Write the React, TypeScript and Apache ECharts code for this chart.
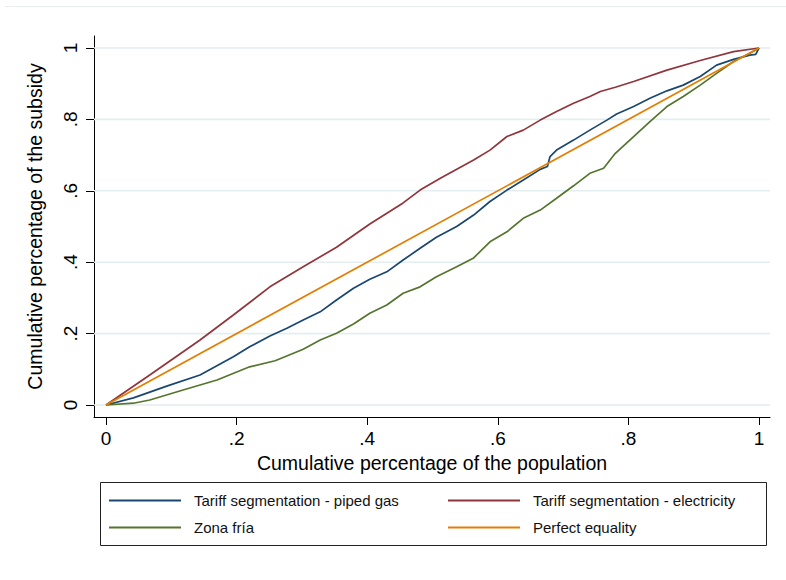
import React, { useEffect, useRef } from "react";
import * as echarts from "echarts";

// Axis ticks (both axes share the 0..1 scale)
const tickValues = [0, 0.2, 0.4, 0.6, 0.8, 1];
const tickLabels = ["0", ".2", ".4", ".6", ".8", "1"];

// Concentration curves: cumulative population share (x) vs cumulative subsidy share (y)
const gasX = [0, 0.042, 0.093, 0.144, 0.195, 0.22, 0.251, 0.277, 0.302, 0.328, 0.353, 0.379, 0.404, 0.43, 0.455, 0.481, 0.506, 0.537, 0.563, 0.588, 0.614, 0.639, 0.665, 0.676, 0.68, 0.69, 0.716, 0.741, 0.767, 0.782, 0.808, 0.833, 0.859, 0.884, 0.91, 0.935, 0.961, 0.986, 0.995, 1];
const gasY = [0, 0.02, 0.053, 0.084, 0.135, 0.163, 0.193, 0.215, 0.238, 0.261, 0.294, 0.327, 0.352, 0.373, 0.406, 0.439, 0.47, 0.5, 0.532, 0.57, 0.602, 0.63, 0.66, 0.668, 0.696, 0.714, 0.742, 0.77, 0.798, 0.815, 0.836, 0.859, 0.88, 0.896, 0.92, 0.952, 0.968, 0.98, 0.982, 1];

const elecX = [0, 0.067, 0.144, 0.195, 0.251, 0.302, 0.353, 0.404, 0.455, 0.481, 0.512, 0.563, 0.588, 0.614, 0.639, 0.665, 0.69, 0.716, 0.741, 0.757, 0.78, 0.808, 0.859, 0.91, 0.961, 1];
const elecY = [0, 0.084, 0.182, 0.252, 0.331, 0.387, 0.442, 0.507, 0.566, 0.602, 0.635, 0.686, 0.714, 0.752, 0.77, 0.798, 0.822, 0.845, 0.864, 0.878, 0.89, 0.906, 0.938, 0.965, 0.99, 1];

const friaX = [0, 0.042, 0.067, 0.118, 0.17, 0.22, 0.259, 0.302, 0.328, 0.353, 0.379, 0.404, 0.43, 0.455, 0.481, 0.506, 0.537, 0.563, 0.588, 0.614, 0.639, 0.665, 0.69, 0.716, 0.741, 0.762, 0.78, 0.808, 0.833, 0.859, 0.884, 0.91, 0.935, 0.961, 0.986, 1];
const friaY = [0, 0.005, 0.014, 0.042, 0.07, 0.107, 0.124, 0.156, 0.182, 0.201, 0.227, 0.257, 0.28, 0.313, 0.331, 0.359, 0.387, 0.412, 0.457, 0.485, 0.523, 0.546, 0.579, 0.614, 0.649, 0.663, 0.705, 0.752, 0.794, 0.836, 0.864, 0.896, 0.929, 0.962, 0.985, 1];

const equalityX = [0, 1];
const equalityY = [0, 1];

const seriesNames = [
  "Tariff segmentation - piped gas",
  "Tariff segmentation - electricity",
  "Zona fría",
  "Perfect equality",
];

const FONT = '"Liberation Sans", Arial, Helvetica, sans-serif';
const GRID_COLOR = "#e4edef";

const zip = (xs: number[], ys: number[]) => xs.map((x, i) => [x, ys[i]]);

export default function App() {
  const ref = useRef<HTMLDivElement>(null);

  useEffect(() => {
    if (!ref.current) return;
    const chart = echarts.init(ref.current, null, { renderer: "svg" });

    const labelFor = (v: number) => {
      const i = tickValues.findIndex((t) => Math.abs(t - v) < 1e-6);
      return i >= 0 ? tickLabels[i] : "";
    };

    // plot region padding around the 0..1 data range (Stata-style)
    const xMin = -12 / 653;
    const xMax = 1 + 11 / 653;
    const yPad = 12 / 357;

    const lineSeries = (name: string, data: number[][], color: string) => ({
      type: "line",
      name,
      data,
      showSymbol: false,
      symbol: "none",
      z: 4,
      lineStyle: { color, width: 1.7 },
      itemStyle: { color },
      silent: true,
    });

    // horizontal grid lines at each y tick, spanning the whole plot region
    const gridSeries = tickValues.map((v) => ({
      type: "line",
      name: "grid-" + v,
      data: [
        [xMin, v],
        [xMax, v],
      ],
      showSymbol: false,
      symbol: "none",
      clip: false,
      z: 2,
      silent: true,
      lineStyle: { color: GRID_COLOR, width: 1.6, opacity: 1 },
      itemStyle: { color: GRID_COLOR },
    }));

    const legendBase = {
      orient: "vertical",
      top: 492,
      itemWidth: 72,
      itemHeight: 2,
      itemGap: 10,
      padding: 0,
      icon: "rect",
      selectedMode: false,
      textStyle: {
        fontFamily: FONT,
        fontSize: 15,
        lineHeight: 17,
        color: "#111",
        padding: [0, 0, 0, 8],
      },
    };

    chart.setOption({
      animation: false,
      backgroundColor: "#ffffff",
      textStyle: { fontFamily: FONT },
      tooltip: { show: false },
      grid: {
        left: 94,
        top: 36,
        right: 16,
        bottom: 163,
        outerBoundsMode: "none",
      },
      xAxis: {
        type: "value",
        min: xMin,
        max: xMax,
        name: "Cumulative percentage of the population",
        nameLocation: "middle",
        nameGap: 31,
        nameTextStyle: { fontFamily: FONT, fontSize: 19.5, color: "#000" },
        axisLine: { show: true, onZero: false, lineStyle: { color: "#000", width: 1 } },
        axisTick: { show: true, length: 8, customValues: tickValues, lineStyle: { color: "#000" } },
        axisLabel: {
          customValues: tickValues,
          formatter: (v: number) => labelFor(v),
          fontFamily: FONT,
          fontSize: 19,
          color: "#000",
          margin: 12,
        },
        splitLine: { show: false },
      },
      yAxis: {
        type: "value",
        min: -yPad,
        max: 1 + yPad,
        name: "Cumulative percentage of the subsidy",
        nameLocation: "middle",
        nameGap: 49,
        nameTextStyle: { fontFamily: FONT, fontSize: 19.5, color: "#000" },
        axisLine: { show: true, onZero: false, lineStyle: { color: "#000", width: 1 } },
        axisTick: { show: true, length: 8, customValues: tickValues, lineStyle: { color: "#000" } },
        axisLabel: {
          customValues: tickValues,
          formatter: (v: number) => labelFor(v),
          rotate: 90,
          fontFamily: FONT,
          fontSize: 19,
          color: "#000",
          margin: 14,
        },
        splitLine: { show: false },
      },
      legend: [
        { ...legendBase, left: 109, data: [seriesNames[0], seriesNames[2]] },
        { ...legendBase, left: 448, data: [seriesNames[1], seriesNames[3]] },
      ],
      graphic: [
        {
          type: "line",
          silent: true,
          shape: { x1: 5, y1: 6.5, x2: 786, y2: 6.5 },
          style: { stroke: "#e6eef0", lineWidth: 1 },
        },
        {
          type: "rect",
          silent: true,
          shape: { x: 100.5, y: 482.5, width: 666, height: 63 },
          style: { fill: "none", stroke: "#222", lineWidth: 1 },
        },
      ],
      series: [
        ...gridSeries,
        lineSeries(seriesNames[0], zip(gasX, gasY), "#1a476f"),
        lineSeries(seriesNames[1], zip(elecX, elecY), "#90353b"),
        lineSeries(seriesNames[2], zip(friaX, friaY), "#55752f"),
        lineSeries(seriesNames[3], zip(equalityX, equalityY), "#e37e00"),
      ],
    });

    return () => chart.dispose();
  }, []);

  return (
    <div
      ref={ref}
      style={{ position: "absolute", left: 0, top: 0, width: 786, height: 580, background: "#fff" }}
    />
  );
}
